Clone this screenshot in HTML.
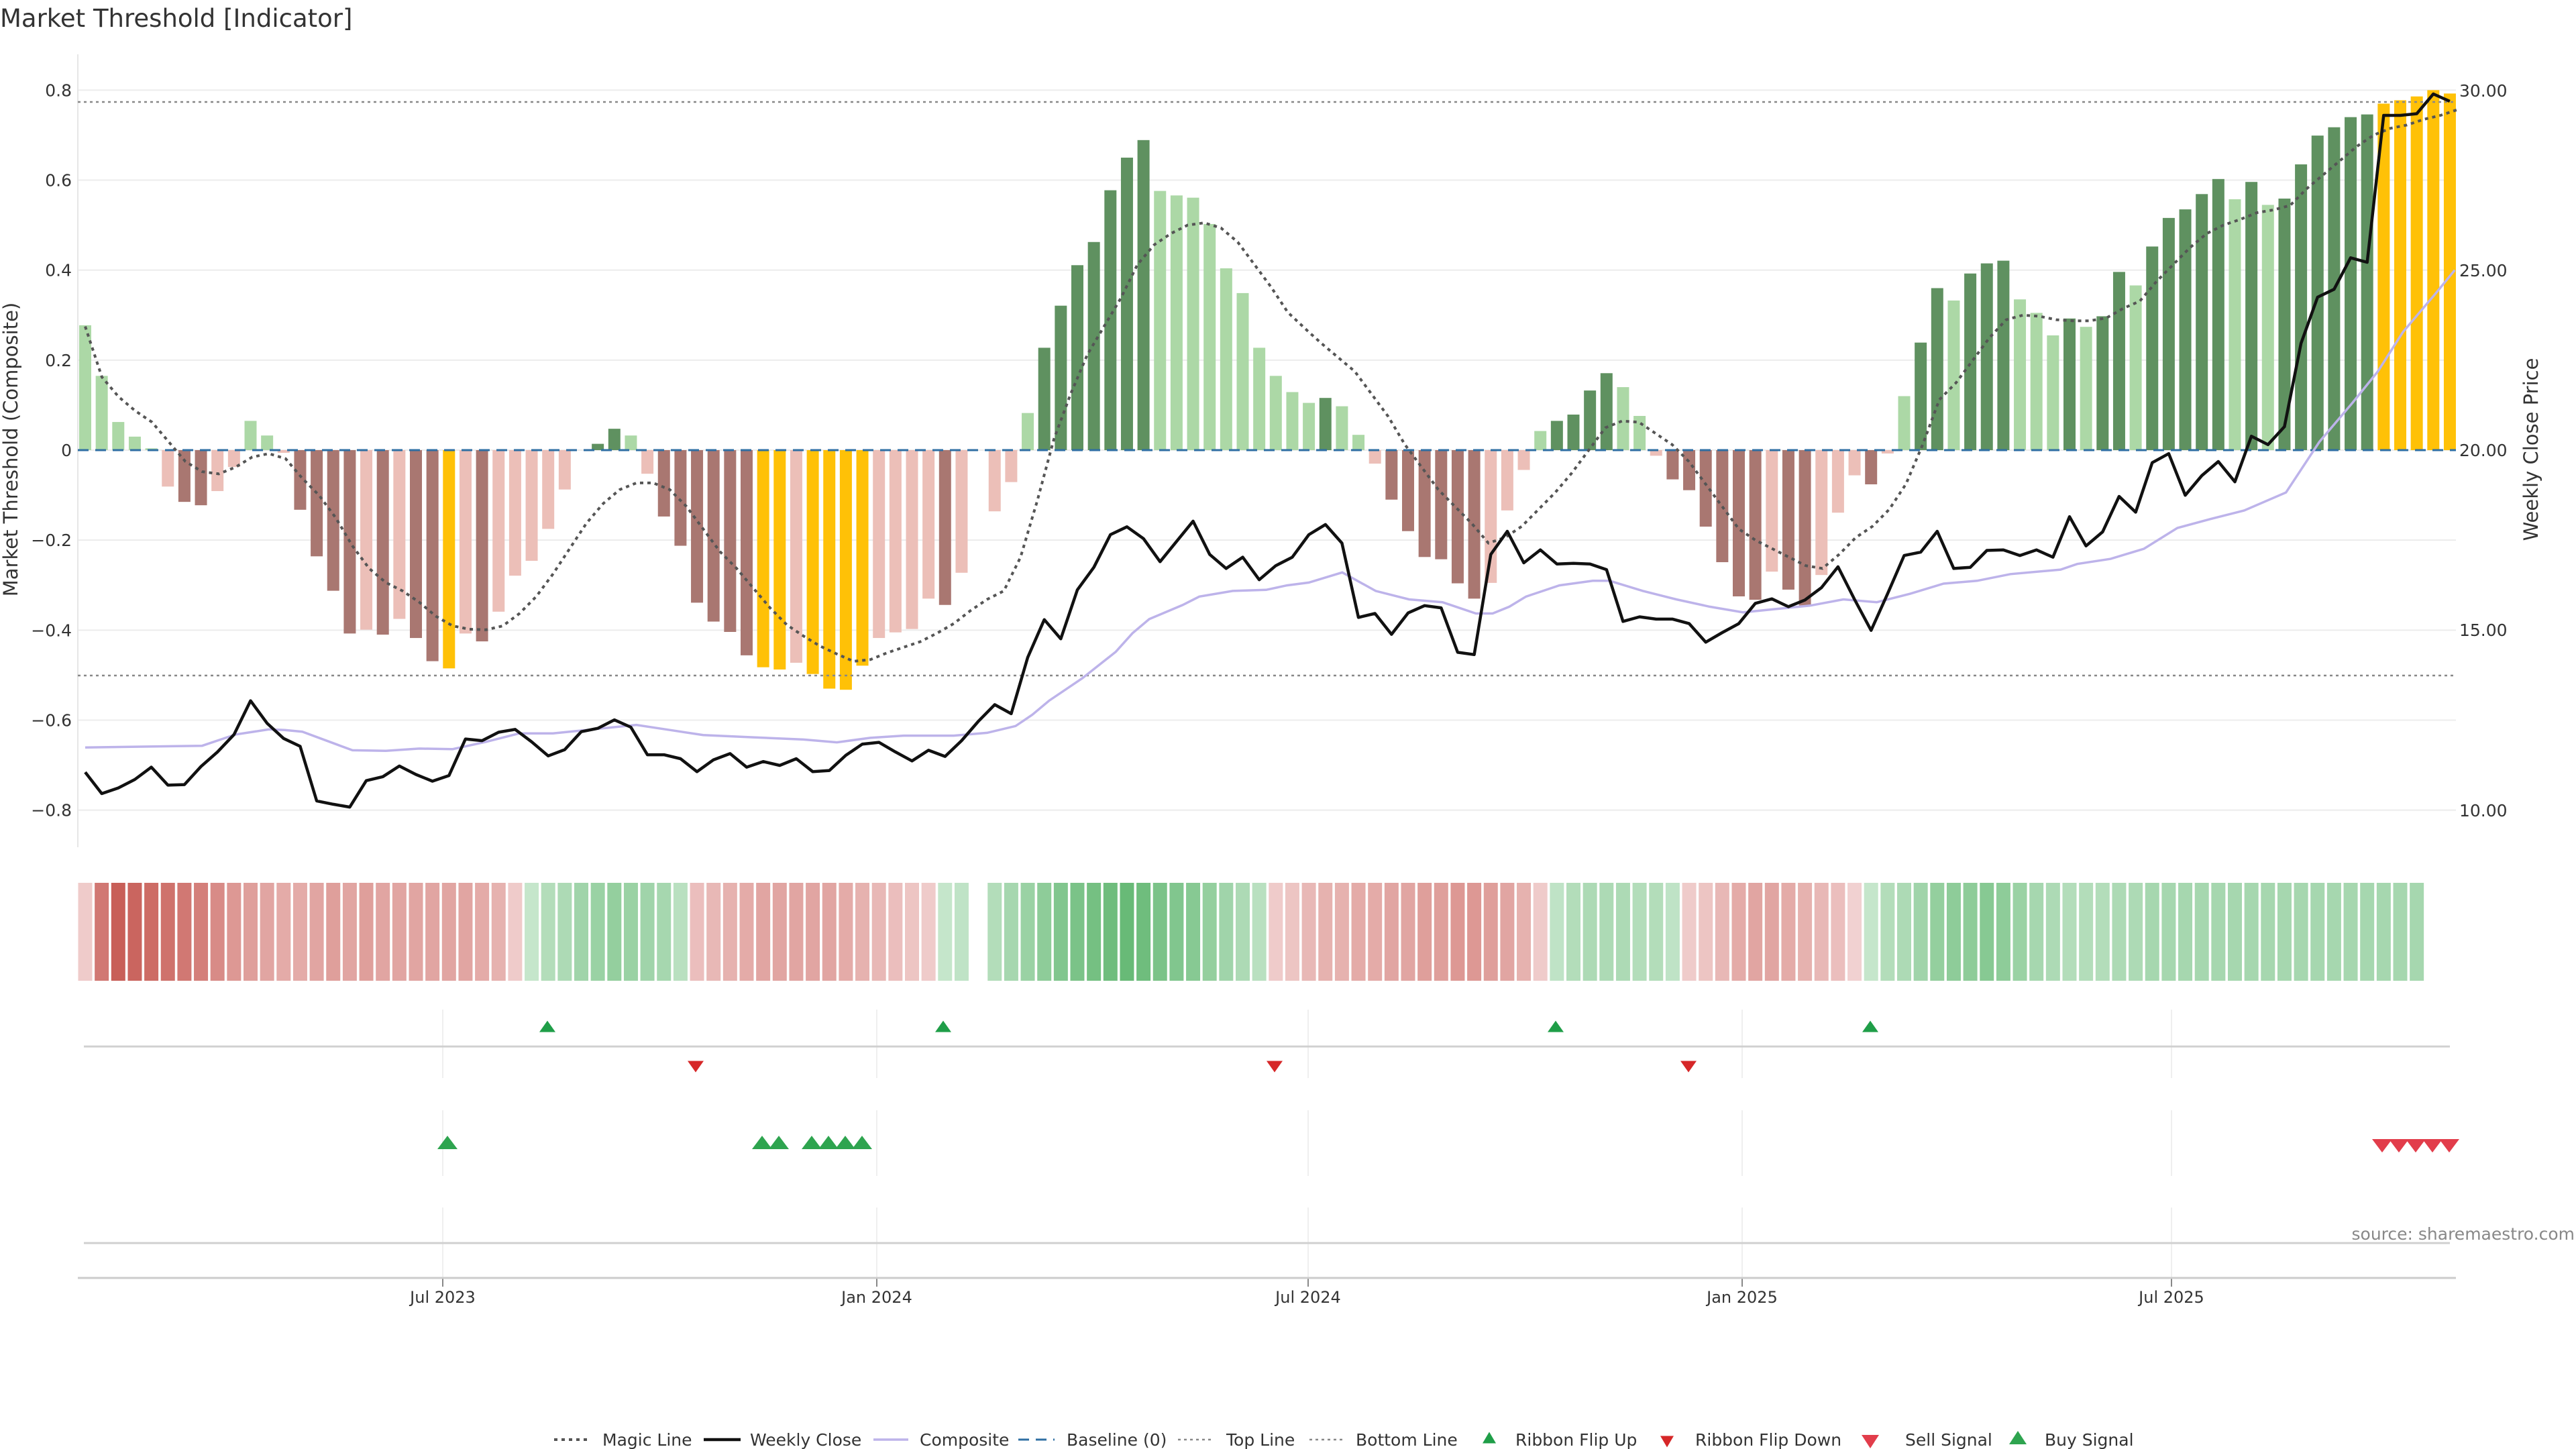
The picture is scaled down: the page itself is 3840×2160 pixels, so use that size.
<!DOCTYPE html>
<html><head><meta charset="utf-8"><style>
html,body{margin:0;padding:0;background:#fff;width:3840px;height:2160px;overflow:hidden}
svg{display:block;font-family:"DejaVu Sans","Liberation Sans",sans-serif}
</style></head><body>
<svg id="s" xmlns="http://www.w3.org/2000/svg" width="3840" height="2160" viewBox="0 0 3840 2160">
<rect width="3840" height="2160" fill="#fff"/>
<text x="0" y="40" font-size="37" fill="#333">Market Threshold [Indicator]</text>
<g id="grid"></g>
<g id="bars"></g>
<g id="lines"></g>
<g id="lower"></g>
<g id="legend"></g>
</svg>
<script>
(function(){
var NS="http://www.w3.org/2000/svg";
function el(p,t,a,txt){var e=document.createElementNS(NS,t);for(var k in a)e.setAttribute(k,a[k]);if(txt!=null)e.textContent=txt;document.getElementById(p).appendChild(e);return e;}
var X0=127,DX=24.65;function bx(i){return X0+i*DX;}
function yv(v){return 671-v*670.8;}
var L=116,R=3661;
[0.8,0.6,0.4,0.2,0,-0.2,-0.4,-0.6,-0.8].forEach(function(v){var y=yv(v);
 el('grid','line',{x1:L,x2:R,y1:y,y2:y,stroke:'#ececec','stroke-width':2});
 var s='0';
 if(v<0)s='\u2212'+'0.'+Math.round(Math.abs(v)*10);else if(v>0)s='0.'+Math.round(v*10);
 el('grid','text',{x:107,y:y+9,'font-size':25,fill:'#333','text-anchor':'end'},s);});
[[30,135],[25,403],[20,671],[15,939],[10,1208]].forEach(function(p){el('grid','text',{x:3666,y:p[1]+9,'font-size':25,fill:'#333'},p[0].toFixed(2));});
el('grid','line',{x1:L,x2:L,y1:81,y2:1263,stroke:'#e6e6e6','stroke-width':2});
el('grid','text',{x:0,y:0,'font-size':29,fill:'#333','text-anchor':'middle',transform:'translate(26,670) rotate(-90)'},'Market Threshold (Composite)');
el('grid','text',{x:0,y:0,'font-size':29,fill:'#333','text-anchor':'middle',transform:'translate(3783,670) rotate(-90)'},'Weekly Close Price');
var B="0.2775g .165g .0625g .03g .004g -.081p -.115r -.1225r -.091p -.0375p .065g .0325g -.006p -.1325r -.236r -.3125r -.4075r -.399p -.41r -.375p -.4175r -.469r -.485y -.4075p -.425r -.359p -.279p -.246p -.175p -.0875p 0n .014G .0475G .0325g -.0525p -.1475r -.2125r -.339r -.381r -.404r -.456r -.4825y -.4875y -.4725p -.4975y -.53y -.5325y -.479y -.4175p -.405p -.3975p -.33p -.344r -.2725p 0n -.136p -.071p .0825g .2275G .321G .411G .4625G .5775G .65G .689G .576g .566g .561g .5025g .404g .349g .2275g .165g .129g .105g .116G .0975g .034g -.03p -.11r -.18r -.2375r -.2425r -.296r -.33r -.295p -.134p -.044p .0425g .065G .079G .1325G .171G .14g .076g -.0125p -.065r -.089r -.17r -.249r -.325r -.3325r -.27p -.31r -.345r -.2775p -.139p -.056p -.076r -.0075p .12g .239G .36G .3325g .3925G .415G .421G .335g .305g .255g .2925G .274g .2975G .396G .366g .4525G .516G .535G .569G .6025G .5575g .596G .545g .559G .635G .699G .7175G .74G .746G .77y .7775y .786y .80y .7925y".split(' ');
var C={g:'#acd8a6',G:'#5f9160',p:'#ecbfb8',r:'#a97771',y:'#ffc107'};
B.forEach(function(s,i){var c=s.slice(-1),v=parseFloat(s);if(c==='n')return;var y0=yv(0),y1=yv(v);
 el('bars','rect',{x:bx(i)-9,y:Math.min(y0,y1),width:18,height:Math.max(1.5,Math.abs(y1-y0)),fill:C[c]});});
el('lines','line',{x1:L,x2:R,y1:152,y2:152,stroke:'#888','stroke-width':2.5,'stroke-dasharray':'4 5'});
el('lines','line',{x1:L,x2:R,y1:1007,y2:1007,stroke:'#888','stroke-width':2.5,'stroke-dasharray':'4 5'});
el('lines','line',{x1:L,x2:R,y1:671,y2:671,stroke:'#2f6fa3','stroke-width':3,'stroke-dasharray':'16 10'});
function z1(x){return X0+(x-101)/19.8*DX;}function z2(x){return X0+(74+(x-5)/19.8)*DX;}
function pts(a,f){var o=[];for(var i=0;i<a.length;i+=2)o.push(f(a[i]).toFixed(1)+','+(a[i+1]*0.839).toFixed(1));return o.join(' ');}
var c1=[101,1328,241,1325,281,1305,321,1296,340,1297,361,1300,401,1322,421,1333,461,1334,501,1330,541,1331,581,1318,621,1303,661,1303,701,1297,761,1288,801,1297,841,1306,901,1310,961,1314,1001,1319,1041,1311,1081,1307,1141,1307,1181,1302,1215,1290,1235,1270,1255,1245,1295,1205,1335,1158,1355,1125,1375,1100,1415,1075,1435,1060,1475,1050,1515,1048,1540,1040];
var c2=[5,1035,45,1017,85,1050,125,1065,165,1070,205,1090,225,1090,245,1078,265,1060,305,1040,345,1032,365,1032,405,1050,445,1065,485,1078,525,1088,565,1082,605,1076,645,1065,685,1070,725,1055,765,1037,805,1032,845,1020,905,1012,925,1002,965,993,1005,975,1045,938,1085,922,1125,907,1175,875,1215,785,1255,715,1285,660,1315,590,1355,520,1377,480];
el('lines','polyline',{points:pts(c1,z1)+' '+pts(c2,z2),fill:'none',stroke:'#bdb3ea','stroke-width':3.5});
var m1=[101,580,121,670,141,705,161,730,181,750,201,785,221,820,241,838,261,842,281,830,301,812,321,806,341,815,361,850,381,880,401,920,421,970,441,1010,461,1035,481,1050,501,1070,521,1095,541,1112,561,1118,581,1119,601,1112,621,1090,641,1060,661,1020,681,975,701,930,721,895,741,870,761,858,781,858,801,870,821,900,841,940,861,980,881,1010,901,1045,921,1080,941,1110,961,1130,981,1148,1001,1162,1021,1175,1041,1172,1061,1160,1081,1150,1101,1140,1121,1125,1141,1108,1161,1085,1181,1065,1201,1050,1221,990,1241,890,1261,780,1281,700,1301,630,1321,580,1341,530,1361,470,1381,435,1401,415,1421,400,1441,396,1461,405,1481,430,1501,470,1521,510,1541,555];
var m2=[5,590,20,610,40,635,60,660,80,700,100,740,120,790,140,830,160,870,180,900,200,930,220,965,240,955,260,935,280,905,300,875,320,840,340,800,360,760,380,748,400,750,420,770,440,790,460,820,480,860,500,900,520,940,540,960,560,975,580,990,600,1005,620,1010,640,985,660,955,680,935,700,905,720,860,740,790,760,710,780,680,800,640,820,600,840,568,860,560,880,562,900,568,920,570,940,570,960,565,980,548,1000,535,1020,500,1040,470,1060,440,1080,415,1100,400,1120,390,1140,378,1160,373,1180,365,1200,335,1220,310,1240,285,1260,260,1280,240,1300,228,1320,222,1340,212,1360,205,1380,195];
el('lines','polyline',{points:pts(m1,z1)+' '+pts(m2,z2),fill:'none',stroke:'#555','stroke-width':4,'stroke-dasharray':'5 6'});
var w=[1372,1410,1400,1385,1363,1395,1394,1362,1336,1305,1245,1285,1312,1326,1423,1429,1434,1387,1380,1361,1376,1388,1378,1313,1316,1301,1296,1318,1343,1332,1300,1294,1279,1292,1341,1341,1348,1371,1350,1339,1363,1353,1360,1348,1371,1369,1342,1322,1319,1336,1352,1333,1344,1316,1282,1252,1268,1168,1101,1135,1048,1008,950,936,957,998,962,926,985,1010,990,1030,1005,990,
950,932,965,1097,1090,1127,1089,1076,1080,1159,1163,985,944,1000,977,1002,1001,1002,1012,1104,1096,1100,1100,1108,1141,1124,1108,1072,1064,1078,1066,1044,1007,1065,1120,1055,987,981,944,1010,1008,978,977,987,977,990,918,970,945,882,910,822,806,880,845,820,856,775,790,758,610,528,514,458,466,205,205,202,167,180];
el('lines','polyline',{points:w.map(function(v,i){return bx(i).toFixed(1)+','+(v*0.839).toFixed(1);}).join(' '),fill:'none',stroke:'#111','stroke-width':4.5,'stroke-linejoin':'round'});
var rb=[-0.15,-0.8,-1,-0.95,-0.9,-0.85,-0.8,-0.75,-0.65,-0.55,-0.5,-0.45,-0.4,-0.4,-0.45,-0.5,-0.45,-0.5,-0.45,-0.45,-0.45,-0.45,-0.45,-0.45,-0.4,-0.35,-0.15,
0.15,0.3,0.35,0.45,0.5,0.55,0.5,0.45,0.4,0.25,
-0.25,-0.3,-0.35,-0.4,-0.45,-0.45,-0.45,-0.45,-0.45,-0.4,-0.35,-0.3,-0.25,-0.2,-0.15,
0.15,0.2,null,0.3,0.4,0.5,0.6,0.7,0.75,0.8,0.85,0.9,0.85,0.75,0.7,0.65,0.55,0.45,0.35,0.25,
-0.15,-0.2,-0.3,-0.35,-0.35,-0.4,-0.4,-0.45,-0.45,-0.5,-0.5,-0.55,-0.55,-0.5,-0.45,-0.35,-0.15,
0.2,0.3,0.35,0.35,0.35,0.3,0.3,0.2,
-0.15,-0.2,-0.3,-0.4,-0.45,-0.45,-0.4,-0.35,-0.3,-0.25,-0.1,
0.15,0.3,0.35,0.45,0.55,0.6,0.6,0.65,0.6,0.5,0.4,0.35,0.3,0.3,0.3,0.35,0.35,0.4,0.4,0.4,0.4,0.4,0.4,0.4,0.4,0.4,0.4,0.4,0.4,0.4,0.4,0.4,0.4,0.4];
function mix(a,b,t){return 'rgb('+[0,1,2].map(function(k){return Math.round(a[k]+(b[k]-a[k])*t);}).join(',')+')';}
rb.forEach(function(s,i){if(s==null||i>143)return;var c=s<0?mix([246,222,222],[200,95,88],-s):mix([216,239,220],[92,180,108],s);
 el('lower','rect',{x:bx(i)-10.5,y:1316,width:21,height:146,fill:c});});
[660,1307,1950,2597,3237].forEach(function(x){[[1505,1607],[1655,1753],[1800,1905]].forEach(function(r){el('lower','line',{x1:x,x2:x,y1:r[0],y2:r[1],stroke:'#efefef','stroke-width':2});});
 el('lower','line',{x1:x,x2:x,y1:1905,y2:1918,stroke:'#888','stroke-width':2});});
el('lower','line',{x1:125,x2:3652,y1:1560,y2:1560,stroke:'#d0d0d0','stroke-width':3});
el('lower','line',{x1:125,x2:3652,y1:1853,y2:1853,stroke:'#d0d0d0','stroke-width':3});
el('lower','line',{x1:116,x2:3661,y1:1905,y2:1905,stroke:'#cccccc','stroke-width':3});
[['Jul 2023',660],['Jan 2024',1307],['Jul 2024',1950],['Jan 2025',2597],['Jul 2025',3237]].forEach(function(t){el('lower','text',{x:t[1],y:1942,'font-size':24,fill:'#333','text-anchor':'middle'},t[0]);});
function up(g,x,y,w,h,c){el(g,'polygon',{points:(x-w/2)+','+(y+h/2)+' '+(x+w/2)+','+(y+h/2)+' '+x+','+(y-h/2),fill:c});}
function dn(g,x,y,w,h,c){el(g,'polygon',{points:(x-w/2)+','+(y-h/2)+' '+(x+w/2)+','+(y-h/2)+' '+x+','+(y+h/2),fill:c});}
[816,1406,2319,2788].forEach(function(x){up('lower',x,1530,24,17,'#1f9e48');});
[1037,1900,2517].forEach(function(x){dn('lower',x,1590,24,17,'#d62728');});
[667,1136,1161,1210,1235,1260,1285].forEach(function(x){up('lower',x,1703,30,20,'#2ea44f');});
[3551,3576,3601,3626,3651].forEach(function(x){dn('lower',x,1708,30,20,'#e23d4b');});
el('lower','text',{x:3838,y:1848,'font-size':25,fill:'#888','text-anchor':'end'},'source: sharemaestro.com');
var LY=2146;
function lt(x,s){el('legend','text',{x:x,y:LY+9,'font-size':25,fill:'#333'},s);}
el('legend','line',{x1:826,x2:880,y1:LY,y2:LY,stroke:'#555','stroke-width':4,'stroke-dasharray':'5 6'});lt(898,'Magic Line');
el('legend','line',{x1:1049,x2:1104,y1:LY,y2:LY,stroke:'#111','stroke-width':4.5});lt(1118,'Weekly Close');
el('legend','line',{x1:1302,x2:1354,y1:LY,y2:LY,stroke:'#bdb3ea','stroke-width':3.5});lt(1371,'Composite');
el('legend','line',{x1:1518,x2:1572,y1:LY,y2:LY,stroke:'#2f6fa3','stroke-width':3,'stroke-dasharray':'16 10'});lt(1590,'Baseline (0)');
el('legend','line',{x1:1756,x2:1810,y1:LY,y2:LY,stroke:'#888','stroke-width':2.5,'stroke-dasharray':'4 5'});lt(1828,'Top Line');
el('legend','line',{x1:1952,x2:2004,y1:LY,y2:LY,stroke:'#888','stroke-width':2.5,'stroke-dasharray':'4 5'});lt(2021,'Bottom Line');
up('legend',2220,LY-3,20,17,'#1f9e48');lt(2259,'Ribbon Flip Up');
dn('legend',2485,LY+3,20,17,'#d62728');lt(2527,'Ribbon Flip Down');
dn('legend',2788,LY+3,26,20,'#e23d4b');lt(2840,'Sell Signal');
up('legend',3008,LY-3,26,20,'#2ea44f');lt(3048,'Buy Signal');
})();
</script>
</body></html>
